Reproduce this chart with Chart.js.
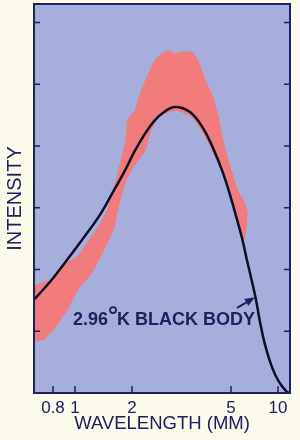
<!DOCTYPE html>
<html>
<head>
  <meta http-equiv="content-type" content="text/html; charset=utf-8"/>
  <script src="https://cdn.jsdelivr.net/npm/chart.js@4/dist/chart.umd.min.js"></script>
  <style>
    html, body { margin: 0; padding: 0; background: #fcfaea; }
  </style>
</head>
<body>
<canvas id="chart" width="300" height="440"></canvas>

<script>
    // tick values
    const xTicks = [0.8, 1, 2, 5, 10];
    const yTicks = [1, 2, 3, 4, 5, 6];

    // 2.96 K black body curve (wavelength mm, intensity)
    const bodyX = [0.66, 0.78, 0.92, 1.12, 1.37, 1.61, 1.82, 2.04, 2.24, 2.45, 2.69, 2.98, 3.42, 3.86,
                   4.23, 4.6, 4.91, 5.38, 5.88, 6.33, 6.82, 7.23, 7.67, 8.26, 9.15, 10.15, 11.4, 11.94];
    const bodyY = [1.51, 1.81, 2.15, 2.53, 2.91, 3.29, 3.58, 3.9, 4.18, 4.4, 4.55, 4.63, 4.55, 4.29,
                   3.97, 3.61, 3.26, 2.87, 2.51, 2.15, 1.8, 1.51, 1.15, 0.78, 0.42, 0.18, 0.02, 0];

    // measured band outline, upper edge left to right then lower edge back
    const bandX = [0.66, 0.66, 0.81, 0.92, 1.03, 1.16, 1.37, 1.48, 1.57, 1.67, 1.77, 1.86, 1.9, 2.06,
                   2.19, 2.32, 2.45, 2.59, 2.72, 2.84, 2.98, 3.12, 3.49, 3.68, 3.93, 4.19, 4.44, 4.6,
                   4.82, 5.08, 5.47, 5.97, 6.33, 6.24, 6.06,
                   5.55, 5.08, 4.78, 4.48, 4.16, 3.82, 3.42, 3.01, 2.72, 2.54, 2.36, 2.26, 2.03, 1.84,
                   1.73, 1.65, 1.61, 1.42, 1.22, 1.03, 0.92, 0.81, 0.73];
    const bandY = [0.83, 1.72, 1.85, 2.11, 2.2, 2.43, 2.75, 2.96, 3.24, 3.5, 3.82, 4.1, 4.42, 4.58,
                   4.91, 5.15, 5.36, 5.47, 5.52, 5.54, 5.49, 5.52, 5.52, 5.39, 5.07, 4.83, 4.47, 4.15,
                   3.82, 3.56, 3.29, 3.13, 2.93, 2.67, 2.48,
                   2.8, 3.13, 3.42, 3.69, 3.97, 4.26, 4.5, 4.58, 4.53, 4.49, 4.21, 3.94, 3.66, 3.42,
                   3.13, 2.88, 2.69, 2.32, 1.94, 1.67, 1.34, 1.05, 0.86];

    const navy = '#1d2160';
    const FONT = '"Liberation Sans", Arial, sans-serif';
    Chart.defaults.font.family = FONT;

    // the printed wavelength axis is hand drawn: log-like, but stretched
    // differently between each labelled tick. [value, fraction of width]
    const axisKnots = [[0.66, 0], [0.8, 0.0742], [1, 0.1602], [2, 0.3828],
                       [5, 0.7695], [10, 0.9531], [11.94, 1]];

    class WarpScale extends Chart.LogarithmicScale {
        frac(v) {
            const l = Math.log10(v);
            for (let i = 1; i < axisKnots.length; i++) {
                const a = Math.log10(axisKnots[i - 1][0]), b = Math.log10(axisKnots[i][0]);
                if (l <= b || i === axisKnots.length - 1) {
                    return axisKnots[i - 1][1] + (l - a) / (b - a) * (axisKnots[i][1] - axisKnots[i - 1][1]);
                }
            }
        }
        getPixelForValue(v) {
            return this.left + this.frac(v) * this.width;
        }
        getValueForPixel(p) {
            const f = (p - this.left) / this.width;
            for (let i = 1; i < axisKnots.length; i++) {
                if (f <= axisKnots[i][1] || i === axisKnots.length - 1) {
                    const a = Math.log10(axisKnots[i - 1][0]), b = Math.log10(axisKnots[i][0]);
                    const t = (f - axisKnots[i - 1][1]) / (axisKnots[i][1] - axisKnots[i - 1][1]);
                    return Math.pow(10, a + t * (b - a));
                }
            }
        }
    }
    WarpScale.id = 'warp';
    WarpScale.defaults = {};
    Chart.register(WarpScale);

    const frame = {
        id: 'frame',
        beforeDraw(chart) {
            const {ctx, chartArea: a} = chart;
            ctx.save();
            ctx.fillStyle = '#a6aedb';
            ctx.fillRect(a.left, a.top, a.right - a.left, a.bottom - a.top);
            ctx.restore();
        },
        afterDraw(chart, args, opts) {
            const {ctx, chartArea: a, scales} = chart;
            const x = scales.x, y = scales.y;
            ctx.save();
            ctx.strokeStyle = navy;
            ctx.fillStyle = navy;
            ctx.lineWidth = 2;
            ctx.strokeRect(a.left, a.top, a.right - a.left, a.bottom - a.top);

            // tick marks point inward
            ctx.lineWidth = 1.5;
            ctx.beginPath();
            x.ticks.forEach((t, i) => {
                const px = x.getPixelForTick(i);
                ctx.moveTo(px, a.bottom);
                ctx.lineTo(px, a.bottom - 7);
            });
            y.ticks.forEach((t, i) => {
                const py = y.getPixelForTick(i);
                ctx.moveTo(a.left, py);
                ctx.lineTo(a.left + 6, py);
                ctx.moveTo(a.right, py);
                ctx.lineTo(a.right - 6, py);
            });
            ctx.stroke();

            // label for the curve
            const lx = x.getPixelForValue(opts.noteAt[0]);
            const ly = y.getPixelForValue(opts.noteAt[1]);
            ctx.font = 'bold 18px ' + FONT;
            ctx.textBaseline = 'alphabetic';
            ctx.fillText('2.96', lx, ly);
            const w = ctx.measureText('2.96').width;
            ctx.lineWidth = 1.8;
            ctx.beginPath();
            ctx.arc(lx + w + 5, ly - 15, 3, 0, Math.PI * 2);
            ctx.stroke();
            ctx.fillText('K BLACK BODY', lx + w + 9, ly);

            // arrow to the curve
            const tx = x.getPixelForValue(opts.arrowFrom[0]), ty = y.getPixelForValue(opts.arrowFrom[1]);
            const hx = x.getPixelForValue(opts.arrowTo[0]), hy = y.getPixelForValue(opts.arrowTo[1]);
            const ang = Math.atan2(hy - ty, hx - tx);
            ctx.lineWidth = 2;
            ctx.beginPath();
            ctx.moveTo(tx, ty);
            ctx.lineTo(hx - 6 * Math.cos(ang), hy - 6 * Math.sin(ang));
            ctx.stroke();
            ctx.beginPath();
            ctx.moveTo(hx, hy);
            ctx.lineTo(hx - 10 * Math.cos(ang) + 4 * Math.sin(ang), hy - 10 * Math.sin(ang) - 4 * Math.cos(ang));
            ctx.lineTo(hx - 10 * Math.cos(ang) - 4 * Math.sin(ang), hy - 10 * Math.sin(ang) + 4 * Math.cos(ang));
            ctx.closePath();
            ctx.fill();
            ctx.restore();
        }
    };

    new Chart(document.getElementById('chart'), {
        type: 'scatter',
        data: {
            datasets: [{
                label: 'Black body',
                data: bodyX.map((v, i) => ({x: v, y: bodyY[i]})),
                showLine: true,
                borderColor: '#0e0f26',
                borderWidth: 2.5,
                tension: 0.4,
                order: 0
            }, {
                label: 'Measured',
                data: bandX.map((v, i) => ({x: v, y: bandY[i]})),
                showLine: true,
                borderColor: '#f27b7b',
                backgroundColor: '#f27b7b',
                borderWidth: 1,
                tension: 0.1,
                fill: 'shape',
                order: 1
            }]
        },
        options: {
            responsive: false,
            animation: false,
            events: [],
            layout: {padding: {top: 4, right: 10, left: 0, bottom: 0}},
            elements: {point: {radius: 0}},
            plugins: {
                legend: {display: false},
                tooltip: {enabled: false},
                frame: {noteAt: [0.98, 1.1], arrowFrom: [5.47, 1.38], arrowTo: [7.12, 1.55]}
            },
            scales: {
                x: {
                    type: 'warp',
                    min: 0.66,
                    max: 11.94,
                    bounds: 'data',
                    afterBuildTicks: s => { s.ticks = xTicks.map(v => ({value: v})); },
                    afterFit: s => { s.height = 47; },
                    grid: {display: false},
                    border: {display: false},
                    ticks: {
                        color: navy,
                        padding: -3,
                        maxRotation: 0,
                        font: {size: 17},
                        callback: v => String(v)
                    },
                    title: {
                        display: true,
                        text: 'WAVELENGTH (MM)',
                        color: navy,
                        font: {size: 18.5},
                        padding: {top: 0, bottom: 5}
                    }
                },
                y: {
                    type: 'linear',
                    min: 0,
                    max: 6.3,
                    afterBuildTicks: s => { s.ticks = yTicks.map(v => ({value: v})); },
                    afterFit: s => { s.width = 34; },
                    grid: {display: false},
                    border: {display: false},
                    ticks: {display: false},
                    title: {
                        display: true,
                        text: 'INTENSITY',
                        color: navy,
                        font: {size: 20},
                        padding: {top: 3, bottom: 0}
                    }
                }
            }
        },
        plugins: [frame]
    });
</script>
</body>
</html>
